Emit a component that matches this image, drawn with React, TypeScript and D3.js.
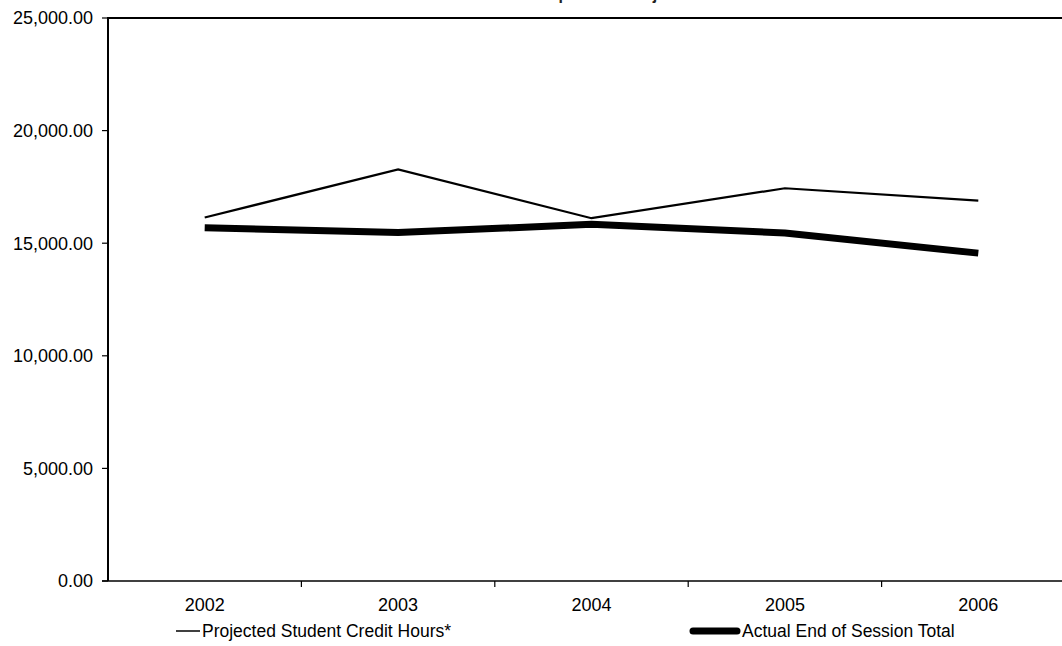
import React from "react";
import * as d3 from "d3";

const years = ["2002", "2003", "2004", "2005", "2006"];
const projected = [16140, 18280, 16110, 17440, 16890];
const actual = [15690, 15470, 15840, 15450, 14560];
const yTicks = [0, 5000, 10000, 15000, 20000, 25000];
const seriesNames = ["Projected Student Credit Hours*", "Actual End of Session Total"];
const titleText = "Actual Compared to Projections";

const W = 1062;
const H = 646;
const left = 108;
const right = 1075;
const top = 18;
const bottom = 581;
const font = "'Liberation Sans', Arial, sans-serif";

export default function App() {
  const x = d3.scaleBand<string>().domain(years).range([left, right]);
  const cx = (d: string) => (x(d) as number) + x.bandwidth() / 2;
  const y = d3.scaleLinear().domain([0, 25000]).range([bottom, top]);
  const fmt = d3.format(",.2f");
  const line = d3
    .line<number>()
    .x((_, i) => cx(years[i]))
    .y((v) => y(v));
  const boundaries = years.slice(1).map((yr) => x(yr) as number);

  return (
    <svg
      width={W}
      height={H}
      style={{ position: "absolute", left: 0, top: 0, background: "#fff" }}
      fontFamily={font}
    >
      <rect x={0} y={0} width={W} height={H} fill="#fff" />
      <text
        x={(left + right) / 2}
        y={0}
        textAnchor="middle"
        fontSize={16}
        fontWeight="bold"
        fill="#222"
      >
        {titleText}
      </text>
      {/* plot border */}
      <line x1={left} x2={right} y1={top} y2={top} stroke="#000" strokeWidth={2} />
      <line x1={right} x2={right} y1={top} y2={bottom} stroke="#000" strokeWidth={2} />
      {/* y axis */}
      <line x1={left} x2={left} y1={top - 1} y2={bottom} stroke="#000" strokeWidth={2} />
      {yTicks.map((t) => (
        <g key={t}>
          <line x1={left - 6} x2={left} y1={y(t)} y2={y(t)} stroke="#000" strokeWidth={1.2} />
          <text
            x={left - 15}
            y={y(t)}
            dy="0.36em"
            textAnchor="end"
            fontSize={18}
            fill="#000"
          >
            {fmt(t)}
          </text>
        </g>
      ))}
      {/* x axis */}
      <line x1={left - 6} x2={right} y1={bottom} y2={bottom} stroke="#000" strokeWidth={1.5} />
      {boundaries.map((b, i) => (
        <line key={i} x1={b} x2={b} y1={bottom} y2={bottom + 6} stroke="#000" strokeWidth={1.2} />
      ))}
      {years.map((yr) => (
        <text key={yr} x={cx(yr)} y={611} textAnchor="middle" fontSize={18} fill="#000">
          {yr}
        </text>
      ))}
      {/* series */}
      <path d={line(projected) || ""} fill="none" stroke="#000" strokeWidth={2.2} strokeLinejoin="miter" />
      <path d={line(actual) || ""} fill="none" stroke="#000" strokeWidth={7} strokeLinejoin="round" />
      {/* legend */}
      <line x1={176} x2={200} y1={631} y2={631} stroke="#000" strokeWidth={1.5} />
      <text x={202} y={637} fontSize={17.5} fill="#000">
        {seriesNames[0]}
      </text>
      <line x1={693} x2={737} y1={631} y2={631} stroke="#000" strokeWidth={7} strokeLinecap="round" />
      <text x={742} y={637} fontSize={17.5} fill="#000">
        {seriesNames[1]}
      </text>
    </svg>
  );
}
